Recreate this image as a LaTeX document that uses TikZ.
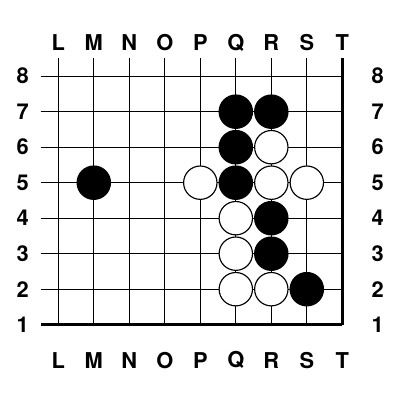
\documentclass[tikz,border=0pt]{standalone}
\usepackage{fontspec}
\setmainfont{TeX Gyre Heros}
\usepackage{tikz}
\usetikzlibrary{positioning}

\tikzset{
	gridline/.style={line width=0.5pt},
	edgeline/.style={line width=1.4pt},
	label/.style={font=\fontsize{10.5}{12}\selectfont\bfseries},
	blackstone/.style={fill=black,draw=black,line width=0.55pt},
	whitestone/.style={fill=white,draw=black,line width=0.55pt}
}

\begin{document}
\begin{tikzpicture}[x=0.6cm,y=0.6cm]
	\useasboundingbox (-1.642,-1.121) rectangle (9.625,10.146);
	
	% grid
	\foreach \j in {2,...,8}
		\draw[gridline] (-0.5,\j) -- (8,\j);
	\foreach \i in {0,...,7}
		\draw[gridline] (\i,1) -- (\i,8.5);
	\draw[edgeline] (-0.5,1) -- (8,1);
	\draw[edgeline] (8,1) -- (8,8.5);
	
	% coordinates
	\foreach \c [count=\i from 0] in {L,M,N,O,P,Q,R,S,T} {
		\node[label] (top\c) at (\i,8.95) {\c};
		\node[label] (bot\c) at (\i,0) {\c};
	}
	\foreach \j in {1,...,8} {
		\node[label] (left\j) at (-1,\j) {\j};
		\node[label] (right\j) at (9,\j) {\j};
	}
	
	% stones
	\foreach \x/\y in {5/7,6/7,5/6,1/5,5/5,6/4,6/3,7/2}
		\draw[blackstone] (\x,\y) circle (0.47);
	\foreach \x/\y in {6/6,4/5,6/5,7/5,5/4,5/3,5/2,6/2}
		\draw[whitestone] (\x,\y) circle (0.47);
\end{tikzpicture}
\end{document}
